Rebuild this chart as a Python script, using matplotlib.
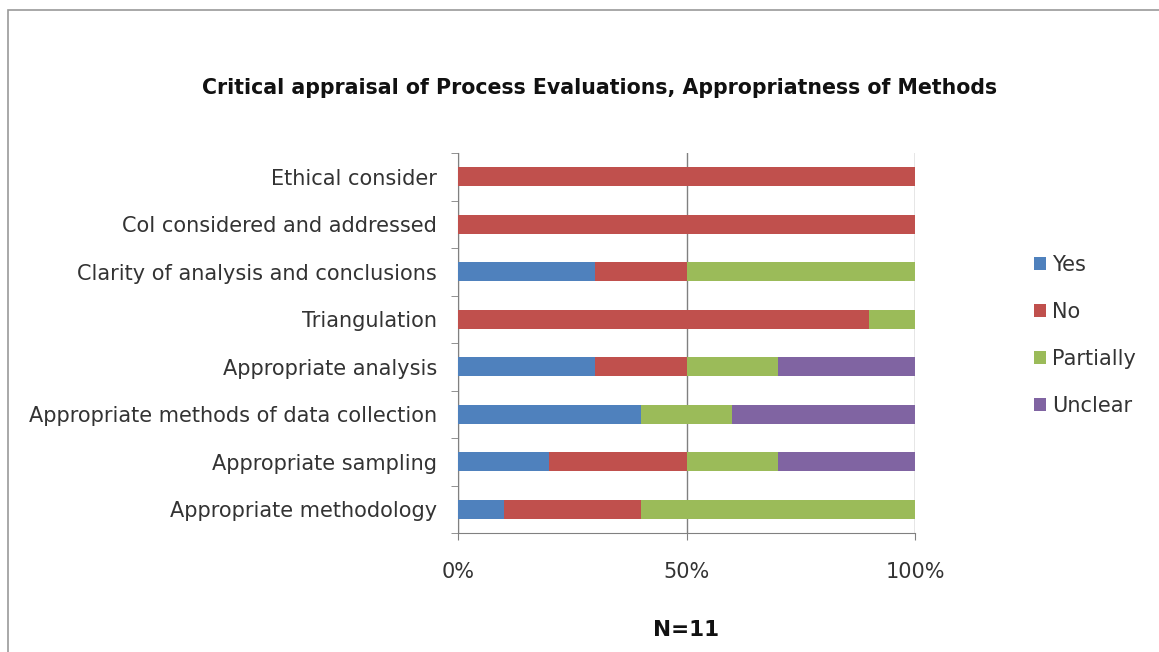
import numpy as np
import matplotlib.pyplot as plt
from matplotlib.patches import Rectangle

# ---- data (percent of studies) ----
categories = ["Appropriate methodology", "Appropriate sampling",
              "Appropriate methods of data collection", "Appropriate analysis",
              "Triangulation", "Clarity of analysis and conclusions",
              "CoI considered and addressed", "Ethical consider"]
yes_vals       = [10, 20, 40, 30,  0, 30,   0,   0]
no_vals        = [30, 30,  0, 20, 90, 20, 100, 100]
partially_vals = [60, 20, 20, 20, 10, 50,   0,   0]
unclear_vals   = [ 0, 30, 40, 30,  0,  0,   0,   0]
series_names = ["Yes", "No", "Partially", "Unclear"]
colors = ["#4F81BD", "#C0504D", "#9BBB59", "#8064A2"]
xtick_vals = [0, 50, 100]
xtick_labels = ["0%", "50%", "100%"]

plt.rcParams['font.family'] = ['DejaVu Sans']

fig = plt.figure(figsize=(11.59, 6.52), dpi=100)
W, H = 1159, 652
# chart frame (bottom and right edges fall outside the image)
fig.patches.append(Rectangle((8 / W, -0.1), 1.2, (H - 10) / H + 0.1,
                             transform=fig.transFigure,
                             fill=False, edgecolor="#9a9a9a", linewidth=1.2))

ax = fig.add_axes([458 / W, 1 - 533 / H, (915 - 458) / W, (533 - 153) / H])

y = np.arange(len(categories))
left = np.zeros(len(categories))
for name, vals, c in zip(series_names,
                         [yes_vals, no_vals, partially_vals, unclear_vals], colors):
    vals = np.array(vals, dtype=float)
    ax.barh(y, vals, left=left, height=0.4, color=c, label=name, zorder=3)
    left += vals

ax.set_xlim(0, 100)
ax.set_ylim(-0.5, len(categories) - 0.5)
ax.set_xticks(xtick_vals)
ax.set_xticklabels(xtick_labels, fontsize=15, color="#333333")
ax.set_yticks(y)
ax.set_yticklabels(categories, fontsize=15, color="#333333")
ax.tick_params(axis='y', length=0, pad=15)
ax.tick_params(axis='x', length=5, pad=16, color="#808080")
# category separator ticks on the left axis
ax.set_yticks(np.arange(-0.5, len(categories), 1), minor=True)
ax.tick_params(axis='y', which='minor', length=5, color="#808080", direction='out')

ax.grid(axis='x', color="#808080", linewidth=1, zorder=0)
for s in ["top", "right"]:
    ax.spines[s].set_visible(False)
ax.spines["left"].set_color("#808080")
ax.spines["bottom"].set_color("#808080")

fig.text(600 / W, 1 - 88 / H,
         "Critical appraisal of Process Evaluations, Appropriatness of Methods",
         ha='center', va='center', fontsize=14.8, fontweight='bold', color="#111111")
fig.text(686 / W, 1 - 630 / H, "N=11", ha='center', va='center',
         fontsize=15.5, fontweight='bold', color="#111111")

leg = ax.legend(loc='center left', bbox_to_anchor=(1.22, 0.52), frameon=False,
                fontsize=15, handlelength=0.55, handleheight=0.55, handletextpad=0.3,
                labelspacing=1.3)
for t in leg.get_texts():
    t.set_color("#333333")

fig.savefig("out.png", dpi=100)
